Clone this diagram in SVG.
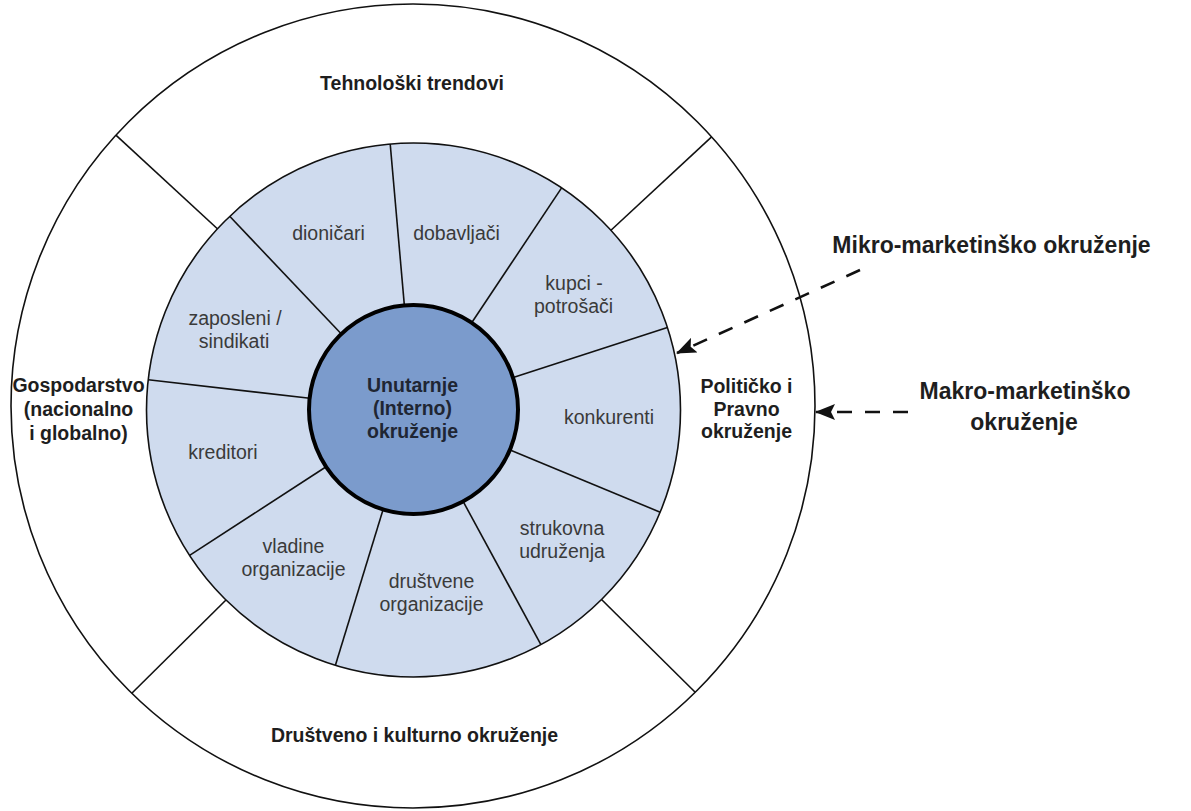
<svg xmlns="http://www.w3.org/2000/svg" width="1191" height="811" viewBox="0 0 1191 811">
<style>
.ln{stroke:#111;stroke-width:1.6;fill:none}
.b{font-family:"Liberation Sans",Arial,sans-serif;font-weight:bold;font-size:19.5px;fill:#1e1e1e;text-anchor:middle}
.r{font-family:"Liberation Sans",Arial,sans-serif;font-size:19.5px;fill:#3a3a3a;text-anchor:middle}
.big{font-family:"Liberation Sans",Arial,sans-serif;font-weight:bold;font-size:23px;fill:#1e1e1e;text-anchor:middle}
.dash{stroke:#111;stroke-width:2.6;fill:none;stroke-dasharray:15 13}
</style>
<defs>
<marker id="ah" markerUnits="userSpaceOnUse" markerWidth="20" markerHeight="16" refX="19" refY="8" orient="auto">
<path d="M0,0 L20,8 L0,16 L4,8 Z" fill="#111"/>
</marker>
</defs>
<rect width="1191" height="811" fill="#fff"/>
<g id="outer-ring">
<circle cx="413" cy="406" r="402" style="fill:#fff;stroke:#111;stroke-width:1.6"/>
<line class="ln" x1="115.9" y1="135.2" x2="222" y2="233"/>
<line class="ln" x1="711.6" y1="136.8" x2="608" y2="233"/>
<line class="ln" x1="131.8" y1="693.2" x2="228" y2="598"/>
<line class="ln" x1="695.2" y1="692.2" x2="600" y2="598"/>
</g>
<g id="middle-ring">
<circle cx="413.5" cy="410" r="267" style="fill:#cfdbee;stroke:#111;stroke-width:1.6"/>
<line class="ln" x1="229.7" y1="216.3" x2="344.7" y2="337.5"/>
<line class="ln" x1="390.2" y1="144.0" x2="404.8" y2="310.4"/>
<line class="ln" x1="561.6" y1="187.9" x2="469.0" y2="326.8"/>
<line class="ln" x1="667.4" y1="327.5" x2="508.6" y2="379.1"/>
<line class="ln" x1="660.2" y1="512.2" x2="505.9" y2="448.3"/>
<line class="ln" x1="540.9" y1="644.6" x2="461.2" y2="497.9"/>
<line class="ln" x1="335.4" y1="665.3" x2="384.3" y2="505.6"/>
<line class="ln" x1="189.6" y1="555.4" x2="329.6" y2="464.5"/>
<line class="ln" x1="148.2" y1="379.8" x2="314.1" y2="398.7"/>
</g>
<g id="inner">
<circle cx="413.5" cy="409.5" r="104.5" style="fill:#7b9bcc;stroke:#000;stroke-width:4"/>
<text class="b" style="fill:#1f2633"><tspan x="412.5" y="392">Unutarnje</tspan><tspan x="412.5" y="415">(Interno)</tspan><tspan x="412.5" y="438">okruženje</tspan></text>
</g>
<g id="tehnoloski"><text class="b" x="412" y="90">Tehnološki trendovi</text></g>
<g id="gospodarstvo"><text class="b"><tspan x="78.5" y="392">Gospodarstvo</tspan><tspan x="78.5" y="416">(nacionalno</tspan><tspan x="78.5" y="440">i globalno)</tspan></text></g>
<g id="politicko"><text class="b"><tspan x="746.5" y="393">Političko i</tspan><tspan x="746.5" y="415.5">Pravno</tspan><tspan x="746.5" y="438">okruženje</tspan></text></g>
<g id="drustveno"><text class="b" x="414.5" y="742">Društveno i kulturno okruženje</text></g>
<g id="dionicari"><text class="r" x="328.5" y="240">dioničari</text></g>
<g id="dobavljaci"><text class="r" x="456.5" y="240">dobavljači</text></g>
<g id="kupci"><text class="r"><tspan x="574" y="290">kupci -</tspan><tspan x="573.5" y="313">potrošači</tspan></text></g>
<g id="konkurenti"><text class="r" x="609" y="424">konkurenti</text></g>
<g id="strukovna"><text class="r"><tspan x="562" y="535">strukovna</tspan><tspan x="562" y="558">udruženja</tspan></text></g>
<g id="drustvene"><text class="r"><tspan x="431.5" y="588">društvene</tspan><tspan x="431.5" y="611">organizacije</tspan></text></g>
<g id="vladine"><text class="r"><tspan x="293.5" y="553">vladine</tspan><tspan x="293.5" y="576">organizacije</tspan></text></g>
<g id="kreditori"><text class="r" x="223" y="459">kreditori</text></g>
<g id="zaposleni"><text class="r"><tspan x="235" y="325">zaposleni /</tspan><tspan x="234" y="348">sindikati</tspan></text></g>
<g id="mikro"><text class="big" x="991.5" y="253">Mikro-marketinško okruženje</text></g>
<g id="makro"><text class="big"><tspan x="1025" y="399">Makro-marketinško</tspan><tspan x="1024" y="430">okruženje</tspan></text></g>
<g id="connectors">
<path class="dash" d="M860,270 L677,353" marker-end="url(#ah)"/>
<path class="dash" d="M908,412 L816,412" marker-end="url(#ah)"/>
</g>
</svg>
